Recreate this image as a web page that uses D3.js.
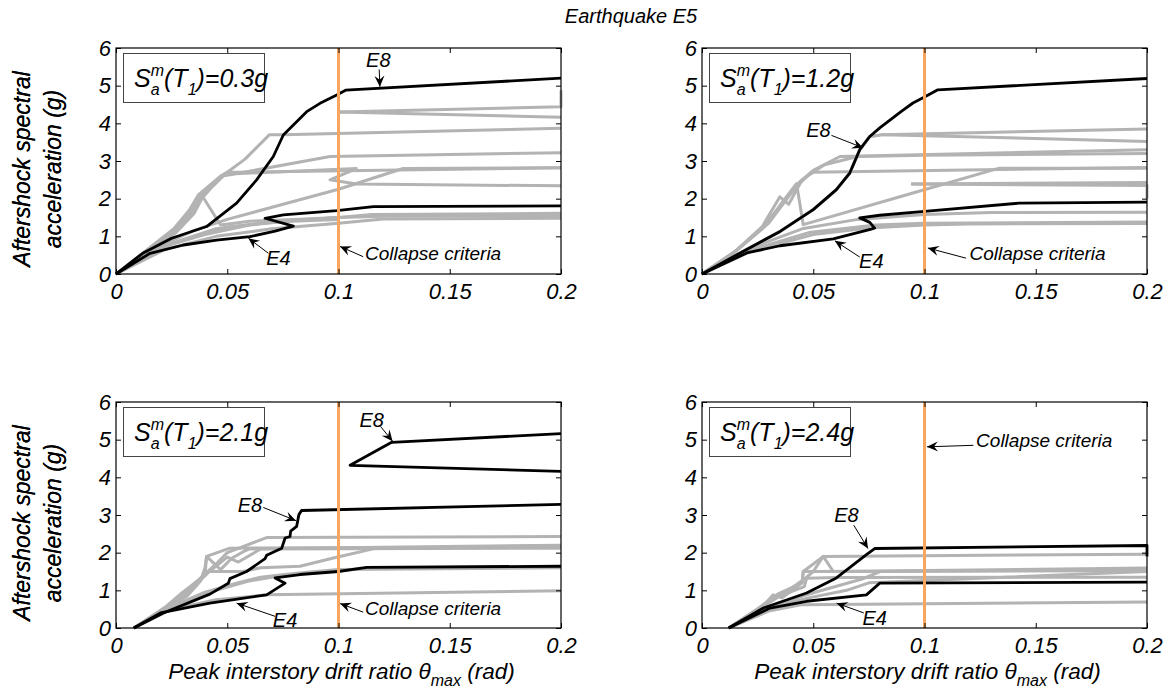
<!DOCTYPE html>
<html>
<head>
<meta charset="utf-8">
<script src="https://cdn.jsdelivr.net/npm/d3@7"></script>
<style>
  body { margin: 0; background: #fff; }
  svg text { font-family: "Liberation Sans", Arial, Helvetica, sans-serif; font-style: italic; fill: #000; }
</style>
</head>
<body>
<svg id="chart" width="1172" height="694"></svg>
<script>
// ---- data ----
const xTicks = [0, 0.05, 0.1, 0.15, 0.2];
const xTickLabels = ["0", "0.05", "0.1", "0.15", "0.2"];
const yTicks = [0, 1, 2, 3, 4, 5, 6];
const collapseDrift = 0.1;
const panelTitles = ["0.3g", "1.2g", "2.1g", "2.4g"];

// panel 1 : Sa(T1)=0.3g
const p1E8 = [[0,0],[0.012,0.55],[0.025,0.95],[0.0407,1.26],[0.0542,1.88],[0.0632,2.5],[0.0707,3.12],[0.0752,3.69],[0.0857,4.31],[0.0917,4.53],[0.0992,4.75],[0.1032,4.88],[0.2,5.2]];
const p1E4 = [[0,0],[0.0153,0.55],[0.0303,0.77],[0.0452,0.9],[0.0602,0.99],[0.0715,1.14],[0.0797,1.27],[0.067,1.48],[0.0752,1.57],[0.0992,1.68],[0.1157,1.79],[0.2,1.81]];
const p1Gray = [
  [[0,0],[0.013,0.6],[0.026,1.2],[0.033,1.7],[0.037,2.1],[0.045,2.5],[0.05,2.7],[0.058,3.05],[0.069,3.7],[0.075,3.7],[0.2,3.87]],
  [[0,0],[0.014,0.6],[0.027,1.2],[0.035,1.8],[0.042,2.3],[0.048,2.6],[0.0962,3.12],[0.2,3.22]],
  [[0,0],[0.016,0.65],[0.029,1.3],[0.036,1.95],[0.041,2.25],[0.047,2.6],[0.05,2.7],[0.2,2.82]],
  [[0,0],[0.017,0.68],[0.03,1.3],[0.037,1.9],[0.043,2.3],[0.049,2.65],[0.108,2.8],[0.0962,2.5],[0.108,2.39],[0.2,2.34]],
  [[0,0],[0.02,0.75],[0.035,1.15],[0.05,1.45],[0.1,2.25],[0.129,2.8],[0.2,2.82]],
  [[0,0],[0.014,0.55],[0.027,1.1],[0.035,1.6],[0.039,2.05],[0.047,1.3],[0.06,1.4],[0.08,1.45],[0.1,1.5],[0.12,1.53],[0.2,1.55]],
  [[0,0],[0.02,0.7],[0.04,1.05],[0.06,1.3],[0.08,1.42],[0.1,1.5],[0.115,1.58],[0.2,1.61]],
  [[0,0],[0.022,0.65],[0.045,1.0],[0.07,1.2],[0.1,1.35],[0.12,1.46],[0.2,1.48]],
  [[0,0],[0.02,0.72],[0.045,1.2],[0.07,1.38],[0.1,1.45],[0.1,4.3],[0.2,4.16]],
  [[0,0],[0.025,0.8],[0.05,1.25],[0.075,1.4],[0.1,1.5],[0.1,4.3],[0.2,4.44],[0.2,4.88]]
];
const p1Notes = [
  { label: "E8", text: [0.1179, 5.68], tail: [0.1183, 5.43], tip: [0.1186, 4.97] },
  { label: "E4", text: [0.073, 0.42], tail: [0.0685, 0.55], tip: [0.0595, 0.95] },
  { label: "Collapse criteria", text: [0.1119, 0.55], tail: [0.1111, 0.46], tip: [0.1007, 0.73], left: true }
];

// panel 2 : Sa(T1)=1.2g
const p2E8 = [[0,0],[0.0172,0.56],[0.0351,1.13],[0.05,1.71],[0.0604,2.24],[0.0664,2.68],[0.0709,3.3],[0.0754,3.65],[0.0799,3.88],[0.0896,4.32],[0.0948,4.54],[0.1,4.7],[0.106,4.89],[0.2,5.19]];
const p2E4 = [[0,0],[0.0201,0.56],[0.0351,0.75],[0.059,0.93],[0.0761,1.19],[0.0776,1.22],[0.0754,1.37],[0.0709,1.49],[0.0799,1.56],[0.1,1.66],[0.1425,1.88],[0.2,1.91]];
const p2Gray = [
  [[0,0],[0.015,0.6],[0.028,1.3],[0.036,1.85],[0.042,2.3],[0.05,2.75],[0.062,3.12],[0.2,3.3]],
  [[0,0],[0.016,0.65],[0.03,1.35],[0.037,1.9],[0.044,2.45],[0.049,2.7],[0.2,2.83]],
  [[0,0],[0.014,0.55],[0.027,1.25],[0.035,2.05],[0.039,1.85],[0.045,2.5],[0.055,2.9],[0.07,3.12],[0.1,3.15],[0.2,3.2]],
  [[0,0],[0.0172,0.56],[0.0351,1.13],[0.05,1.71],[0.0604,2.24],[0.0664,2.68],[0.0709,3.3],[0.0754,3.65],[0.0813,3.7],[0.2,3.85]],
  [[0,0],[0.0172,0.56],[0.0351,1.13],[0.05,1.71],[0.0604,2.24],[0.0664,2.68],[0.0709,3.3],[0.0754,3.65],[0.0813,3.7],[0.2,3.52]],
  [[0.094,2.39],[0.2,2.43]],
  [[0.094,2.39],[0.2,2.35],[0.2,2.0]],
  [[0,0],[0.015,0.6],[0.028,1.25],[0.036,1.9],[0.0425,2.4],[0.0455,1.31],[0.0948,2.15],[0.1336,2.81],[0.2,2.81]],
  [[0,0],[0.02,0.65],[0.045,1.2],[0.07,1.45],[0.1,1.58],[0.13,1.63],[0.2,1.64]],
  [[0,0],[0.022,0.6],[0.05,1.05],[0.075,1.22],[0.1,1.3],[0.12,1.33],[0.2,1.34]],
  [[0,0],[0.021,0.62],[0.048,1.1],[0.078,1.3],[0.1,1.35],[0.2,1.38]]
];
const p2Notes = [
  { label: "E8", text: [0.0523, 3.83], tail: [0.0582, 3.68], tip: [0.0724, 3.35] },
  { label: "E4", text: [0.0761, 0.34], tail: [0.0709, 0.45], tip: [0.0597, 0.88] },
  { label: "Collapse criteria", text: [0.1202, 0.56], tail: [0.1187, 0.42], tip: [0.1015, 0.69], left: true }
];

// panel 3 : Sa(T1)=2.1g
const p3E8 = [[0.008,0],[0.0213,0.4],[0.0422,0.9],[0.0505,1.19],[0.0512,1.31],[0.0587,1.5],[0.067,1.84],[0.0677,1.93],[0.0745,2.12],[0.076,2.39],[0.0782,2.43],[0.0785,2.57],[0.0812,2.7],[0.0822,3.01],[0.0834,3.12],[0.2,3.28]];
const p3E8Upper = [[0.2,4.16],[0.1052,4.32],[0.1239,4.93],[0.2,5.16]];
const p3E4 = [[0.008,0],[0.02,0.4],[0.0422,0.66],[0.0677,0.88],[0.076,1.19],[0.0715,1.33],[0.0827,1.42],[0.1,1.5],[0.1127,1.61],[0.2,1.64]];
const p3Gray = [
  [[0.008,0],[0.022,0.5],[0.03,0.9],[0.045,1.7],[0.05,2.0],[0.0677,2.4],[0.2,2.43]],
  [[0.008,0],[0.022,0.55],[0.03,0.95],[0.04,1.4],[0.0407,1.9],[0.0512,2.12],[0.2,2.15]],
  [[0.008,0],[0.024,0.6],[0.035,1.1],[0.042,1.5],[0.05,1.88],[0.055,1.75],[0.065,2.1],[0.2,2.12]],
  [[0.008,0],[0.022,0.5],[0.034,1.0],[0.041,1.5],[0.057,1.5],[0.065,1.6],[0.0827,1.64],[0.0977,1.86],[0.117,2.12],[0.2,2.18]],
  [[0.008,0],[0.025,0.55],[0.045,1.0],[0.06,1.25],[0.075,1.4],[0.1,1.52],[0.115,1.6],[0.2,1.62]],
  [[0.008,0],[0.025,0.5],[0.045,0.75],[0.0677,0.88],[0.2,0.99]],
  [[0.008,0],[0.024,0.55],[0.04,0.95],[0.055,1.2],[0.065,1.35],[0.08,1.45],[0.1,1.55],[0.2,1.6]],
  [[0.008,0],[0.021,0.45],[0.032,0.85],[0.038,1.25],[0.04,1.6],[0.0407,1.9],[0.047,1.55],[0.052,1.85],[0.058,2.05],[0.06,2.1],[0.2,2.2]]
];
const p3Notes = [
  { label: "E8", text: [0.1149, 5.53], tail: [0.1189, 5.35], tip: [0.1243, 4.96] },
  { label: "E8", text: [0.0602, 3.27], tail: [0.0662, 3.2], tip: [0.0809, 2.85] },
  { label: "E4", text: [0.076, 0.22], tail: [0.0715, 0.31], tip: [0.0542, 0.66] },
  { label: "Collapse criteria", text: [0.1119, 0.53], tail: [0.1111, 0.42], tip: [0.1007, 0.65], left: true }
];

// panel 4 : Sa(T1)=2.4g
const p4E8 = [[0.012,0],[0.0276,0.53],[0.047,0.93],[0.0604,1.33],[0.0739,1.95],[0.0776,2.11],[0.2,2.19],[0.2,1.9]];
const p4E4 = [[0.012,0],[0.0306,0.53],[0.047,0.71],[0.0739,0.88],[0.0799,1.19],[0.2,1.22]];
const p4Gray = [
  [[0.012,0],[0.025,0.5],[0.033,0.85],[0.04,1.05],[0.046,1.3],[0.05,1.5],[0.0545,1.9],[0.2,1.96]],
  [[0.012,0],[0.026,0.55],[0.034,0.9],[0.045,1.2],[0.0455,1.5],[0.0545,1.9],[0.059,1.5],[0.2,1.59]],
  [[0.012,0],[0.027,0.55],[0.035,0.85],[0.046,1.1],[0.047,1.32],[0.06,1.34],[0.2,1.35]],
  [[0.012,0],[0.028,0.5],[0.045,0.85],[0.06,1.1],[0.072,1.3],[0.08,1.5],[0.2,1.55]],
  [[0.012,0],[0.03,0.55],[0.048,0.8],[0.065,1.0],[0.075,1.2],[0.2,1.5]],
  [[0.012,0],[0.03,0.45],[0.045,0.62],[0.2,0.69]],
  [[0.012,0],[0.026,0.5],[0.032,0.88],[0.036,0.8],[0.045,1.2],[0.0455,1.5],[0.2,1.52]]
];
const p4Notes = [
  { label: "E8", text: [0.0649, 3.01], tail: [0.0682, 2.73], tip: [0.0746, 2.11] },
  { label: "E4", text: [0.0776, 0.28], tail: [0.0727, 0.4], tip: [0.0605, 0.66] },
  { label: "Collapse criteria", text: [0.1232, 4.99], tail: [0.122, 4.85], tip: [0.1011, 4.81], left: true }
];

// ---- layout ----
const panelW = 445, panelH = 226;
const panels = [
  { left: 116, top: 48, title: panelTitles[0], gray: p1Gray, black: [p1E4, p1E8], notes: p1Notes },
  { left: 702, top: 48, title: panelTitles[1], gray: p2Gray, black: [p2E4, p2E8], notes: p2Notes },
  { left: 116, top: 402, title: panelTitles[2], gray: p3Gray, black: [p3E4, p3E8, p3E8Upper], notes: p3Notes, xlabel: true },
  { left: 702, top: 402, title: panelTitles[3], gray: p4Gray, black: [p4E4, p4E8], notes: p4Notes, xlabel: true }
];

const svg = d3.select("#chart");

// arrow head
svg.append("defs").append("marker")
  .attr("id", "head")
  .attr("viewBox", "-12 -6 14 12")
  .attr("refX", 0).attr("refY", 0)
  .attr("markerWidth", 14).attr("markerHeight", 12)
  .attr("markerUnits", "userSpaceOnUse")
  .attr("orient", "auto")
  .append("path")
  .attr("d", "M0,0 L-11,-5 L-7,0 L-11,5 Z")
  .attr("fill", "#000");

const x = d3.scaleLinear().domain([0, 0.2]).range([0, panelW]);
const y = d3.scaleLinear().domain([0, 6]).range([panelH, 0]);
const line = d3.line().x(d => x(d[0])).y(d => y(d[1]));

// title
svg.append("text")
  .attr("x", 631).attr("y", 23)
  .attr("text-anchor", "middle")
  .attr("font-size", 20)
  .text("Earthquake E5");

panels.forEach(p => {
  let g = svg.append("g").attr("transform", "translate(" + p.left + "," + p.top + ")");

  // gray curves
  g.selectAll(".gray").data(p.gray).join("path")
    .attr("class", "gray")
    .attr("d", line)
    .attr("fill", "none")
    .attr("stroke", "#b3b3b3")
    .attr("stroke-width", 3)
    .attr("stroke-linejoin", "round");

  // black curves (E4, E8)
  g.selectAll(".black").data(p.black).join("path")
    .attr("class", "black")
    .attr("d", line)
    .attr("fill", "none")
    .attr("stroke", "#000")
    .attr("stroke-width", 2.8)
    .attr("stroke-linejoin", "round");

  // collapse criteria line
  g.append("line")
    .attr("x1", x(collapseDrift)).attr("x2", x(collapseDrift))
    .attr("y1", y(6)).attr("y2", y(0))
    .attr("stroke", "#f8a65e")
    .attr("stroke-width", 3);

  // axes, MATLAB style ticks inside on all sides
  let xAxis = g.append("g")
    .attr("transform", "translate(0," + panelH + ")")
    .call(d3.axisBottom(x).tickValues(xTicks).tickSize(-5).tickPadding(9)
      .tickFormat((d, i) => xTickLabels[i]));
  g.append("g").call(d3.axisTop(x).tickValues(xTicks).tickSize(-5).tickFormat(""));
  let yAxis = g.append("g")
    .call(d3.axisLeft(y).tickValues(yTicks).tickSize(-5).tickPadding(5).tickFormat(d3.format("d")));
  g.append("g").attr("transform", "translate(" + panelW + ",0)")
    .call(d3.axisRight(y).tickValues(yTicks).tickSize(-5).tickFormat(""));
  g.selectAll(".domain").remove();
  g.selectAll(".tick line").attr("stroke", "#000");
  xAxis.selectAll("text").attr("font-size", 22).attr("font-family", null);
  yAxis.selectAll("text").attr("font-size", 22).attr("font-family", null);

  g.append("rect")
    .attr("width", panelW).attr("height", panelH)
    .attr("fill", "none").attr("stroke", "#000").attr("stroke-width", 1.2);

  // annotations
  p.notes.forEach(n => {
    g.append("line")
      .attr("x1", x(n.tail[0])).attr("y1", y(n.tail[1]))
      .attr("x2", x(n.tip[0])).attr("y2", y(n.tip[1]))
      .attr("stroke", "#000").attr("stroke-width", 1)
      .attr("marker-end", "url(#head)");
    g.append("text")
      .attr("x", x(n.text[0])).attr("y", y(n.text[1]))
      .attr("dy", "0.36em")
      .attr("text-anchor", n.left ? "start" : "middle")
      .attr("font-size", n.left ? 19 : 20)
      .text(n.label);
  });

  // panel label box  S_a^m(T_1)=...
  g.append("rect")
    .attr("x", 7.5).attr("y", 5.5).attr("width", 141).attr("height", 49)
    .attr("fill", "#fff").attr("stroke", "#444").attr("stroke-width", 1);
  let parts = [
    { t: "S", size: 25, dy: 0 },
    { t: "m", size: 16, dy: -11, stack: true },
    { t: "a", size: 16, dy: 8 },
    { t: "(T", size: 25, dy: 0 },
    { t: "1", size: 16, dy: 8 },
    { t: ")=" + p.title, size: 25, dy: 0 }
  ];
  let cx = 18, base = 39, held = 0;
  parts.forEach(part => {
    let t = g.append("text")
      .attr("x", cx).attr("y", base + part.dy)
      .attr("font-size", part.size)
      .text(part.t);
    let w = t.node().getComputedTextLength();
    if (part.stack) { held = w; return; }
    cx += Math.max(w, held);
    held = 0;
  });

  // y label
  let cy = p.top + panelH / 2 + 8;
  [["Aftershock spectral", 30], ["acceleration (g)", 61]].forEach(([txt, bx]) => {
    svg.append("text")
      .attr("transform", "translate(" + bx + "," + cy + ") rotate(-90)")
      .attr("text-anchor", "middle")
      .attr("font-size", 23)
      .text(txt);
  });

  // x label
  if (p.xlabel) {
    let t = svg.append("text")
      .attr("x", p.left + panelW / 2 + 3).attr("y", 679)
      .attr("text-anchor", "middle")
      .attr("font-size", 22.5);
    t.append("tspan").text("Peak interstory drift ratio \u03b8");
    t.append("tspan").attr("font-size", 16).attr("dy", 7).text("max");
    t.append("tspan").attr("dy", -7).text(" (rad)");
  }
});
</script>
</body>
</html>
